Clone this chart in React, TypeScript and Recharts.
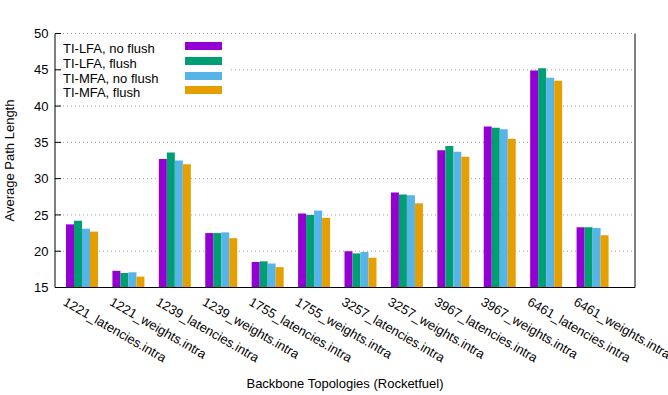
import React from "react";
import { BarChart, Bar, XAxis, YAxis, CartesianGrid, Legend } from "recharts";

const FONT = "'Liberation Sans', Arial, sans-serif";

const topologies = [
  "1221_latencies.intra",
  "1221_weights.intra",
  "1239_latencies.intra",
  "1239_weights.intra",
  "1755_latencies.intra",
  "1755_weights.intra",
  "3257_latencies.intra",
  "3257_weights.intra",
  "3967_latencies.intra",
  "3967_weights.intra",
  "6461_latencies.intra",
  "6461_weights.intra",
];

const lfaNoFlush = [23.7, 17.3, 32.7, 22.5, 18.5, 25.2, 20.0, 28.1, 33.9, 37.2, 44.9, 23.3];
const lfaFlush = [24.2, 17.0, 33.6, 22.5, 18.6, 25.0, 19.7, 27.8, 34.5, 37.0, 45.2, 23.3];
const mfaNoFlush = [23.1, 17.1, 32.5, 22.6, 18.3, 25.6, 19.9, 27.7, 33.7, 36.8, 43.9, 23.2];
const mfaFlush = [22.7, 16.5, 32.0, 21.8, 17.8, 24.6, 19.1, 26.6, 33.0, 35.5, 43.5, 22.2];

const yTicks = [15, 20, 25, 30, 35, 40, 45, 50];

const series = [
  { key: "lfaNoFlush", name: "TI-LFA, no flush", color: "#9400d3" },
  { key: "lfaFlush", name: "TI-LFA, flush", color: "#009e73" },
  { key: "mfaNoFlush", name: "TI-MFA, no flush", color: "#56b4e9" },
  { key: "mfaFlush", name: "TI-MFA, flush", color: "#e69f00" },
];

const data = topologies.map((name, i) => ({
  name,
  lfaNoFlush: lfaNoFlush[i],
  lfaFlush: lfaFlush[i],
  mfaNoFlush: mfaNoFlush[i],
  mfaFlush: mfaFlush[i],
}));

// rotated category labels, starting a bit left of the group centre
const XTick = (props: any) => {
  const { x, y, payload } = props;
  const tx = x - 20;
  const ty = y + 17;
  return (
    <text
      x={tx}
      y={ty}
      transform={`rotate(30 ${tx} ${ty})`}
      fontSize={13}
      fontFamily={FONT}
      fill="#000"
      textAnchor="start"
    >
      {payload.value}
    </text>
  );
};

const KeyBox = () => (
  <div
    style={{
      position: "relative",
      width: 167,
      height: 66,
      background: "#fff",
      fontFamily: FONT,
      fontSize: 13,
      color: "#000",
    }}
  >
    {series.map((s, i) => (
      <React.Fragment key={s.key}>
        <div
          style={{
            position: "absolute",
            left: 2,
            top: 6 + i * 14.8,
            lineHeight: "15px",
            whiteSpace: "nowrap",
          }}
        >
          {s.name}
        </div>
        <div
          style={{
            position: "absolute",
            left: 124,
            top: 7 + i * 14.8,
            width: 37,
            height: 8,
            background: s.color,
          }}
        />
      </React.Fragment>
    ))}
  </div>
);

export default function App() {
  return (
    <div style={{ position: "absolute", left: 0, top: 0, width: 668, height: 395, background: "#fff" }}>
      <BarChart
        width={668}
        height={395}
        data={data}
        margin={{ top: 33.5, right: 32, bottom: 8, left: 0 }}
        barGap={0}
        barSize={8}
      >
        <CartesianGrid
          vertical={false}
          stroke="#a0a0a0"
          strokeDasharray="1 3"
        />
        <XAxis
          dataKey="name"
          interval={0}
          height={99.5}
          padding={{ left: 4, right: 19 }}
          tickLine={false}
          tickSize={0}
          tickMargin={0}
          tick={<XTick />}
          axisLine={{ stroke: "#000" }}
          label={(p: any) => {
            const vb = p.viewBox;
            return (
              <text
                x={vb.x + vb.width / 2}
                y={vb.y + 100}
                textAnchor="middle"
                fontSize={13}
                fontFamily={FONT}
                fill="#000"
              >
                Backbone Topologies (Rocketfuel)
              </text>
            );
          }}
        />
        <XAxis
          xAxisId="top"
          dataKey="name"
          orientation="top"
          height={0}
          tick={false}
          tickLine={false}
          axisLine={{ stroke: "#000" }}
          label={(p: any) => {
            const vb = p.viewBox;
            return (
              <text
                x={vb.x + vb.width / 2 - 3}
                y={19}
                textAnchor="middle"
                fontSize={13}
                fontFamily={FONT}
                fill="#000"
              >
                Average Path Lengths (all 4 algorithms)
              </text>
            );
          }}
        />
        <YAxis
          width={55}
          domain={[15, 50]}
          ticks={yTicks}
          interval={0}
          tickSize={-6}
          tickMargin={12.5}
          tick={{ fill: "#000", fontSize: 13, fontFamily: FONT }}
          tickLine={{ stroke: "#000" }}
          axisLine={{ stroke: "#000" }}
          label={(p: any) => {
            const vb = p.viewBox;
            const cy = vb.y + vb.height / 2;
            return (
              <text
                x={14}
                y={cy}
                transform={`rotate(-90 14 ${cy})`}
                textAnchor="middle"
                fontSize={13}
                fontFamily={FONT}
                fill="#000"
              >
                Average Path Length
              </text>
            );
          }}
        />
        <YAxis
          yAxisId="right"
          orientation="right"
          width={1}
          domain={[15, 50]}
          ticks={yTicks}
          interval={0}
          tickSize={-6}
          tickFormatter={() => ""}
          tickLine={{ stroke: "#000" }}
          axisLine={{ stroke: "#000" }}
        />
        <Legend
          layout="horizontal"
          verticalAlign="middle"
          align="center"
          wrapperStyle={{ left: 61, top: 35, width: 167, height: 66 }}
          content={<KeyBox />}
        />
        {series.map((s) => (
          <Bar
            key={s.key}
            dataKey={s.key}
            name={s.name}
            fill={s.color}
            isAnimationActive={false}
          />
        ))}
      </BarChart>
    </div>
  );
}
